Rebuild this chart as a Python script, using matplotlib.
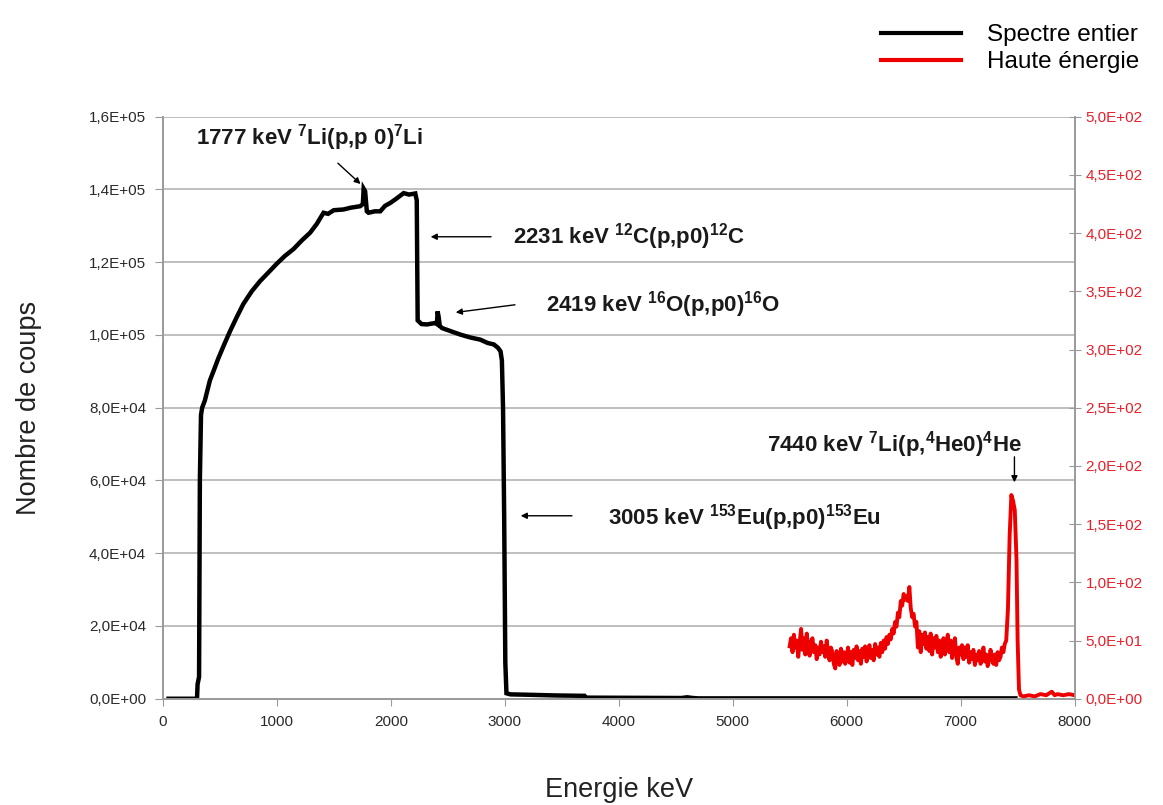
import matplotlib
matplotlib.use('Agg')
import matplotlib.pyplot as plt
from matplotlib.ticker import FuncFormatter
from matplotlib.lines import Line2D

plt.rcParams['font.family'] = ['Liberation Sans', 'DejaVu Sans']
plt.rcParams['mathtext.fontset'] = 'custom'
plt.rcParams['mathtext.rm'] = 'Liberation Sans:bold'
plt.rcParams['mathtext.it'] = 'Liberation Sans:bold'
plt.rcParams['mathtext.bf'] = 'Liberation Sans:bold'
plt.rcParams['mathtext.default'] = 'rm'

# spectre entier (axe gauche)
energie_noir = [50, 300, 305, 318, 325, 335, 345, 369, 413, 450, 486, 540, 589, 650, 706,
                780, 853, 930, 1000, 1070, 1146, 1220, 1292, 1350, 1410, 1450, 1500, 1585,
                1650, 1732, 1755, 1762, 1775, 1790, 1805, 1860, 1908, 1950, 1996, 2050, 2113,
                2160, 2215, 2228, 2232, 2236, 2270, 2318, 2391, 2405, 2411, 2420, 2430, 2450,
                2530, 2611, 2700, 2787, 2850, 2904, 2940, 2963, 2975, 2985, 2995, 3005, 3015,
                3050, 3200, 3450, 3700, 3710, 4550, 4600, 4650, 4700, 7480]
coups_noir = [0, 0, 4000, 6000, 60000, 78000, 80000, 82000, 87500, 90500, 93500, 97500,
              101000, 105000, 108500, 112000, 114800, 117300, 119600, 121700, 123600, 126000,
              128100, 130500, 133600, 133300, 134300, 134500, 135000, 135400, 136000, 140200,
              139500, 134000, 133600, 134000, 134000, 135500, 136300, 137500, 139000, 138600,
              138900, 137000, 120000, 104000, 103000, 102900, 103300, 103000, 106500, 105000,
              102500, 101900, 101000, 100100, 99300, 98700, 97800, 97400, 96500, 95500, 93000,
              80000, 50000, 10000, 1500, 1200, 1100, 900, 800, 300, 200, 400, 200, 100, 100]

# haute energie (axe droit)
energie_rouge = [5500, 5512, 5525, 5537, 5550, 5562, 5575, 5587, 5600, 5612, 5625, 5637,
                 5650, 5662, 5675, 5687, 5700, 5712, 5725, 5737, 5750, 5762, 5775, 5787,
                 5800, 5812, 5825, 5837, 5850, 5862, 5875, 5887, 5900, 5912, 5925, 5937,
                 5950, 5962, 5975, 5987, 6000, 6012, 6025, 6037, 6050, 6062, 6075, 6087,
                 6100, 6112, 6125, 6137, 6150, 6162, 6175, 6187, 6200, 6212, 6225, 6237,
                 6250, 6262, 6275, 6287, 6300, 6312, 6325, 6337, 6350, 6362, 6375, 6387,
                 6400, 6412, 6425, 6437, 6450, 6462, 6475, 6487, 6500, 6512, 6525, 6537,
                 6550, 6562, 6575, 6587, 6600, 6612, 6625, 6637, 6650, 6662, 6675, 6687,
                 6700, 6712, 6725, 6737, 6750, 6762, 6775, 6787, 6800, 6812, 6825, 6837,
                 6850, 6862, 6875, 6887, 6900, 6912, 6925, 6937, 6950, 6962, 6975, 6987,
                 7000, 7012, 7025, 7037, 7050, 7062, 7075, 7087, 7100, 7112, 7125, 7137,
                 7150, 7162, 7175, 7187, 7200, 7212, 7225, 7237, 7250, 7262, 7275, 7287,
                 7300, 7312, 7325, 7337, 7350, 7362, 7375, 7387, 7400, 7415, 7430, 7445,
                 7460, 7475, 7490, 7500, 7512, 7525, 7550, 7600, 7650, 7700, 7750, 7800,
                 7825, 7850, 7900, 7950, 8000]
coups_rouge = [45, 52, 40, 55, 44, 50, 36, 48, 60, 42, 52, 38,
               56, 45, 37, 49, 52, 40, 46, 34, 44, 38, 49, 40,
               45, 36, 50, 39, 33, 44, 40, 30, 26, 41, 37, 29,
               43, 32, 40, 30, 36, 44, 31, 40, 29, 42, 35, 45,
               33, 41, 30, 43, 36, 45, 32, 40, 46, 35, 42, 33,
               47, 38, 44, 36, 48, 40, 50, 43, 53, 47, 55, 51,
               60, 56, 66, 62, 74, 70, 84, 80, 90, 85, 88, 84,
               96, 78, 70, 73, 62, 66, 44, 58, 40, 55, 47, 57,
               43, 53, 41, 56, 38, 52, 44, 54, 40, 50, 36, 47,
               52, 38, 46, 55, 40, 50, 35, 47, 52, 36, 30, 44,
               38, 46, 34, 44, 36, 46, 31, 40, 34, 42, 29, 38,
               33, 41, 30, 36, 44, 32, 38, 28, 33, 42, 35, 30,
               38, 29, 40, 33, 36, 44, 40, 47, 50, 77, 140, 175,
               170, 162, 120, 50, 8, 3, 2, 3, 2, 4, 3, 6,
               3, 4, 3, 4, 3]

gauche_ticks = [0, 20000, 40000, 60000, 80000, 100000, 120000, 140000, 160000]
droite_ticks = [0, 50, 100, 150, 200, 250, 300, 350, 400, 450, 500]
x_ticks = [0, 1000, 2000, 3000, 4000, 5000, 6000, 7000, 8000]


def fmt_sci(v, pos):
    s = '%.1E' % v
    return s.replace('.', ',')


fig = plt.figure(figsize=(11.63, 8.05), dpi=100)
ax = fig.add_axes([0.140, 0.132, 0.784, 0.723])
ax2 = ax.twinx()

ax.plot(energie_noir, coups_noir, color='black', lw=3.2, solid_joinstyle='miter')
ax2.plot(energie_rouge, coups_rouge, color='#ee0000', lw=2.8)

ax.set_xlim(0, 8000)
ax.set_ylim(0, 160000)
ax2.set_ylim(0, 500)
ax.set_xticks(x_ticks)
ax.set_yticks(gauche_ticks)
ax2.set_yticks(droite_ticks)
ax.yaxis.set_major_formatter(FuncFormatter(fmt_sci))
ax2.yaxis.set_major_formatter(FuncFormatter(fmt_sci))

ax.grid(axis='y', color='#b4b4b4', lw=1.2)
ax.set_axisbelow(True)
for a in (ax, ax2):
    a.spines['top'].set_visible(False)
    for s in ('left', 'right', 'bottom'):
        a.spines[s].set_color('#9a9a9a')
        a.spines[s].set_linewidth(1.2)

ax.tick_params(axis='y', direction='out', length=6, color='#9a9a9a', labelsize=11,
               labelcolor='#2a2a2a', pad=6)
ax.tick_params(axis='x', direction='out', length=5, color='#9a9a9a', labelsize=11,
               labelcolor='#2a2a2a', pad=7)
ax2.tick_params(axis='y', direction='inout', length=8, color='#9a9a9a', labelsize=11,
                labelcolor='#e8202a', pad=4)

ax.set_xlabel('Energie keV', fontsize=19.5, labelpad=34, color='#222222')
ax.set_ylabel('Nombre de coups', fontsize=19.5, labelpad=34, color='#222222')

bold = dict(fontsize=16, fontweight='bold', color='#1a1a1a')
arrow = dict(arrowstyle='-|>', color='black', lw=1.0, mutation_scale=9)

ax.annotate('1777 keV $^{7}$Li(p,p 0)$^{7}$Li', xy=(1735, 141500), xytext=(1290, 154300),
            ha='center', va='center', arrowprops=dict(arrow, shrinkA=8, shrinkB=0), **bold)
ax.annotate('', xy=(2350, 127000), xytext=(2880, 127000), arrowprops=dict(arrow, shrinkA=0, shrinkB=0))
ax.text(3070, 127000, '2231 keV $^{12}$C(p,p0)$^{12}$C', ha='left', va='center', **bold)
ax.annotate('', xy=(2570, 106200), xytext=(3090, 108300), arrowprops=dict(arrow, shrinkA=0, shrinkB=0))
ax.text(3365, 108300, '2419 keV $^{16}$O(p,p0)$^{16}$O', ha='left', va='center', **bold)
ax.annotate('', xy=(3140, 50300), xytext=(3590, 50300), arrowprops=dict(arrow, shrinkA=0, shrinkB=0))
ax.text(3910, 49800, '3005 keV $^{153}$Eu(p,p0)$^{153}$Eu', ha='left', va='center', **bold)
ax.annotate('', xy=(7472, 59500), xytext=(7472, 66500), arrowprops=dict(arrow, shrinkA=0, shrinkB=0))
ax.text(6420, 70000, '7440 keV $^{7}$Li(p,$^{4}$He0)$^{4}$He', ha='center', va='center', **bold)

handles = [Line2D([], [], color='black', lw=3), Line2D([], [], color='#ee0000', lw=3)]
fig.legend(handles, ['Spectre entier', 'Haute énergie'], loc='upper right',
           bbox_to_anchor=(0.998, 0.997), frameon=False, fontsize=17.5, handlelength=3.3,
           handletextpad=1.05, labelspacing=0.2)

fig.savefig('out.png', dpi=100, facecolor='white')
